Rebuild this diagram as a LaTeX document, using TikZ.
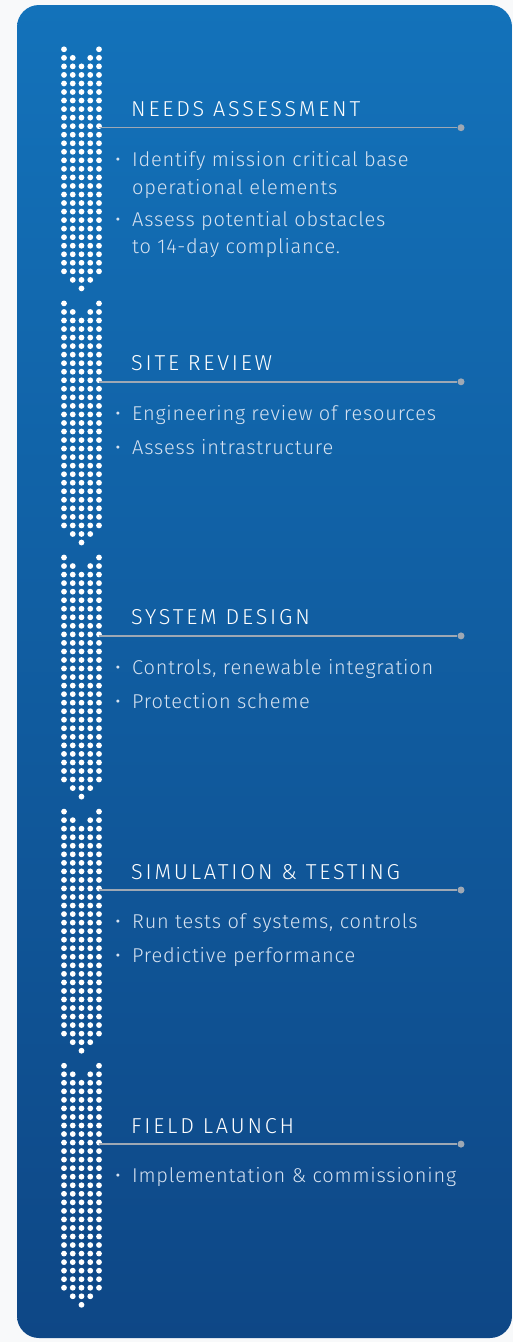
\documentclass[tikz,border=0pt]{standalone}
\usepackage{fontspec}
\setmainfont{Fira Sans Light}
\newfontfamily\headfont[LetterSpace=13]{Fira Sans Light}
\newfontfamily\bodyfont[LetterSpace=4]{Fira Sans Light}
\definecolor{pagebg}{HTML}{F8F9FA}
\definecolor{paneltop}{HTML}{1372BA}
\definecolor{panelbot}{HTML}{0E4786}
\definecolor{rulegray}{HTML}{9EA8B4}
\definecolor{bodytext}{HTML}{D6E2F1}
\begin{document}
\begin{tikzpicture}[x=1pt,y=-1pt,
  dotfill/.style={fill=white},
  rule/.style={draw=rulegray,line width=1.4pt},
  enddot/.style={circle,fill=rulegray,inner sep=0pt,minimum size=7pt},
  heading/.style={anchor=base west,inner sep=0pt,text=white,font=\headfont\fontsize{21.6}{24}\selectfont},
  body/.style={anchor=base west,inner sep=0pt,text=bodytext,font=\bodyfont\fontsize{20}{24}\selectfont},
  bullet/.style={anchor=base,inner sep=0pt,text=bodytext,font=\fontsize{20}{24}\selectfont}]
\useasboundingbox (0,0) rectangle (513,1342);
\fill[pagebg] (0,0) rectangle (513,1342);
\shade[top color=paneltop,bottom color=panelbot,rounded corners=22pt] (17,5) rectangle (512,1338);
% dotted arrows
\foreach \k in {0,...,4}{
  \pgfmathsetmacro\tp{49.3+254.1*\k}
  \foreach \c in {0,4}{\fill[dotfill] (64+8.75*\c,\tp) circle (2.9pt);}
  \foreach \c in {0,1,3,4}{\fill[dotfill] (64+8.75*\c,\tp+8.54) circle (2.9pt);}
  \foreach \r in {2,...,26}{\foreach \c in {0,...,4}{\fill[dotfill] (64+8.75*\c,\tp+8.54*\r) circle (2.9pt);}}
  \foreach \c in {1,2,3}{\fill[dotfill] (64+8.75*\c,\tp+8.54*27) circle (2.9pt);}
  \fill[dotfill] (81.5,\tp+8.54*28) circle (2.9pt);
}
% section rules
\foreach \k in {1,...,5}{
  \pgfmathsetmacro\ly{127.7+254.1*(\k-1)}
  \coordinate (s\k) at (99,\ly);
  \node[enddot] (e\k) at (461,\ly) {};
  \draw[rule] (s\k) -- (e\k);
}
% section 1
\node[heading] (h1) at (131,116.7) {NEEDS ASSESSMENT};
\node[bullet] (b11) at (118,166) {•};
\node[body] (t11) at (132,166) {Identify mission critical base};
\node[body] (t11b) at (132,194) {operational elements};
\node[bullet] (b12) at (118,226) {•};
\node[body] (t12) at (132,226) {Assess potential obstacles};
\node[body] (t12b) at (132,253.5) {to 14-day compliance.};
% section 2
\node[heading] (h2) at (131,370.8) {SITE REVIEW};
\node[bullet] (b21) at (118,420.3) {•};
\node[body] (t21) at (132,420.3) {Engineering review of resources};
\node[bullet] (b22) at (118,454.8) {•};
\node[body] (t22) at (132,454.8) {Assess intrastructure};
% section 3
\node[heading] (h3) at (131,624.9) {SYSTEM DESIGN};
\node[bullet] (b31) at (118,674.2) {•};
\node[body] (t31) at (132,674.2) {Controls, renewable integration};
\node[bullet] (b32) at (118,708.9) {•};
\node[body] (t32) at (132,708.9) {Protection scheme};
% section 4
\node[heading] (h4) at (131,879) {SIMULATION \& TESTING};
\node[bullet] (b41) at (118,928.3) {•};
\node[body] (t41) at (132,928.3) {Run tests of systems, controls};
\node[bullet] (b42) at (118,962.8) {•};
\node[body] (t42) at (132,962.8) {Predictive performance};
% section 5
\node[heading] (h5) at (131,1133.1) {FIELD LAUNCH};
\node[bullet] (b51) at (118,1182.4) {•};
\node[body] (t51) at (132,1182.4) {Implementation \& commissioning};
\end{tikzpicture}
\end{document}
